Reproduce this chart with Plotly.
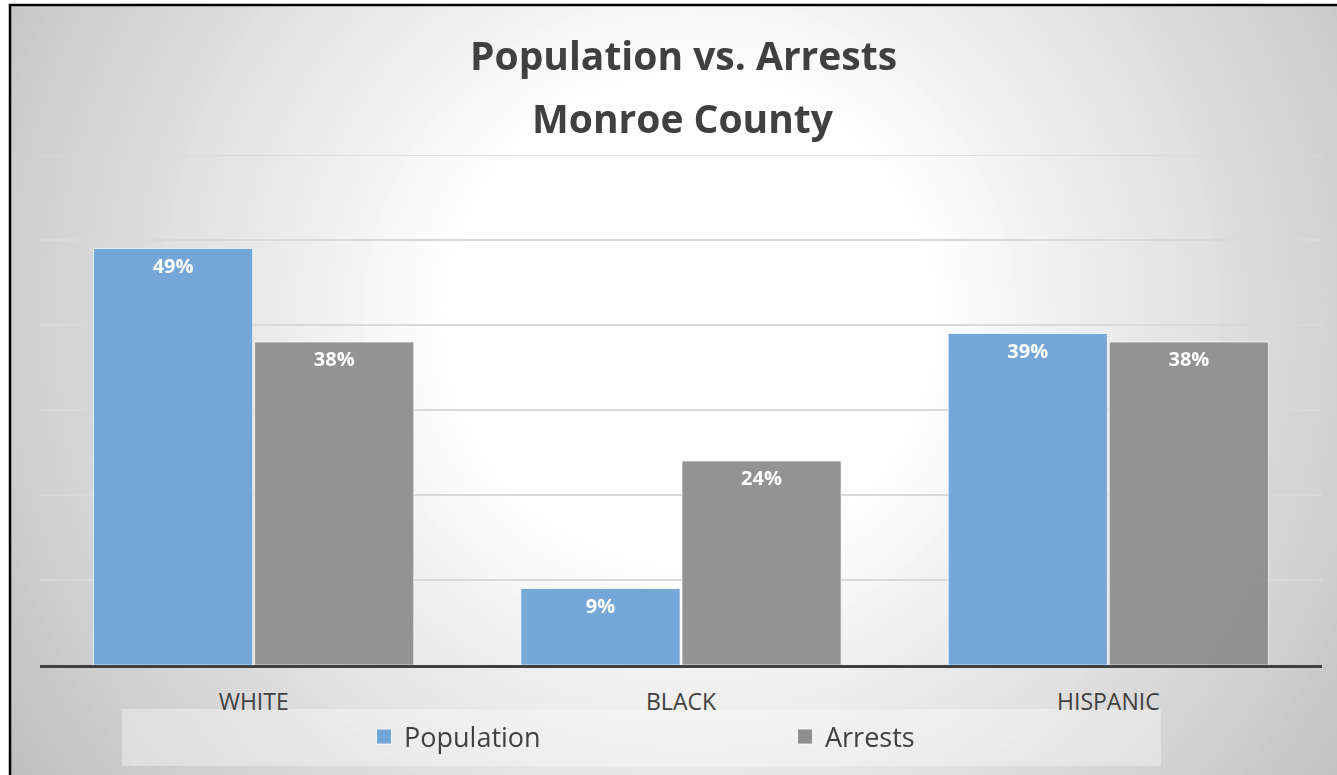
import plotly.graph_objects as go

categories = ["WHITE", "BLACK", "HISPANIC"]
population = [0.49, 0.09, 0.39]
arrests = [0.38, 0.24, 0.38]
pop_labels = ["49%", "9%", "39%"]
arr_labels = ["38%", "24%", "38%"]
series_names = ["Population", "Arrests"]
series_colors = ["#6FA5D7", "#8F8F8F"]
title_line1 = "Population vs. Arrests"
title_line2 = "Monroe County"
y_max = 0.6

W, H = 1337, 775
L, R, T, B = 40, 15, 155, 110
PW = W - L - R
PH = H - T - B

def px_x(p):
    return (p - L) / PW

def px_y(p):
    return (H - B - p) / PH

TXT = "#404040"
FONT = "Open Sans"
BAR_LINE = dict(color="rgba(255,255,255,0.7)", width=1)

fig = go.Figure()
for name, vals, labels, col in zip(series_names, [population, arrests],
                                   [pop_labels, arr_labels], series_colors):
    fig.add_trace(go.Bar(
        x=categories, y=vals, name=name, showlegend=False,
        text=labels, textposition="inside", insidetextanchor="end",
        textfont=dict(family=FONT, size=20, color="white", weight="bold"),
        marker=dict(color=col, line=BAR_LINE),
        opacity=0.96, hoverinfo="skip",
    ))
# legend entries with larger square swatches
for name, col in zip(series_names, series_colors):
    fig.add_trace(go.Scatter(
        x=[None], y=[None], mode="markers", name=name,
        marker=dict(symbol="square", size=15, color=col,
                    line=dict(color="rgba(255,255,255,0.8)", width=1)),
        hoverinfo="skip",
    ))

shapes = []
# radial background gradient (decoration)
cx, cy = 690, 320
n = 60
rmax, r0 = 820, 240
for i in range(n + 1):
    r = rmax - (rmax - r0) * i / n
    t = (r - r0) / (rmax - r0)
    v = int(round(255 - (255 - 192) * t))
    col = f"rgb({v},{v},{v})"
    shapes.append(dict(
        type="circle", xref="paper", yref="paper", layer="below",
        x0=px_x(cx - r), x1=px_x(cx + r), y0=px_y(cy + r), y1=px_y(cy - r),
        fillcolor=col, line=dict(width=0),
    ))
# outside area white
shapes.append(dict(type="rect", xref="paper", yref="paper", layer="below",
                   x0=px_x(0), x1=px_x(10), y0=px_y(H), y1=px_y(0),
                   fillcolor="white", line=dict(width=0)))
shapes.append(dict(type="rect", xref="paper", yref="paper", layer="below",
                   x0=px_x(0), x1=px_x(W), y0=px_y(5), y1=px_y(0),
                   fillcolor="white", line=dict(width=0)))
# legend background box
shapes.append(dict(type="rect", xref="paper", yref="paper", layer="below",
                   x0=px_x(122), x1=px_x(1161), y0=px_y(766), y1=px_y(709),
                   fillcolor="rgba(255,255,255,0.35)", line=dict(width=0)))
# top gridline at the axis maximum
shapes.append(dict(type="line", xref="paper", yref="y", layer="below",
                   x0=0, x1=1, y0=y_max, y1=y_max,
                   line=dict(color="#D9D9D9", width=1.5)))
# border
shapes.append(dict(type="rect", xref="paper", yref="paper", layer="above",
                   x0=px_x(10), x1=px_x(W + 20), y0=px_y(H + 20), y1=px_y(5),
                   fillcolor="rgba(0,0,0,0)", line=dict(color="black", width=2.5)))

annotations = [
    dict(text=f"<b>{title_line1}</b>", xref="paper", yref="paper",
         x=px_x(683), y=px_y(54), showarrow=False, xanchor="center", yanchor="middle",
         font=dict(family=FONT, size=39, color=TXT)),
    dict(text=f"<b>{title_line2}</b>", xref="paper", yref="paper",
         x=px_x(683), y=px_y(117), showarrow=False, xanchor="center", yanchor="middle",
         font=dict(family=FONT, size=39, color=TXT)),
]

fig.update_layout(
    width=W, height=H,
    margin=dict(l=L, r=R, t=T, b=B, pad=0),
    paper_bgcolor="white", plot_bgcolor="rgba(0,0,0,0)",
    barmode="group", bargap=0.246, bargroupgap=0.012,
    shapes=shapes, annotations=annotations,
    showlegend=True,
    legend=dict(orientation="h", x=px_x(364), xanchor="left",
                y=px_y(737), yanchor="middle",
                entrywidth=376, entrywidthmode="pixels",
                font=dict(family=FONT, size=27, color=TXT),
                bgcolor="rgba(0,0,0,0)", traceorder="normal"),
    font=dict(family=FONT, color=TXT),
)
fig.update_xaxes(showline=True, linecolor="#404040", linewidth=3,
                 ticks="", ticklabelstandoff=14,
                 tickfont=dict(family=FONT, size=23, color=TXT), showgrid=False,
                 fixedrange=True)
fig.update_yaxes(range=[0, y_max], dtick=0.1, showticklabels=False,
                 showgrid=True, gridcolor="#D9D9D9", gridwidth=1.5,
                 zeroline=False, fixedrange=True)

fig.write_html("out.html", config={"displayModeBar": False},
               post_script="document.body.style.margin='0';document.body.style.overflow='hidden';")
